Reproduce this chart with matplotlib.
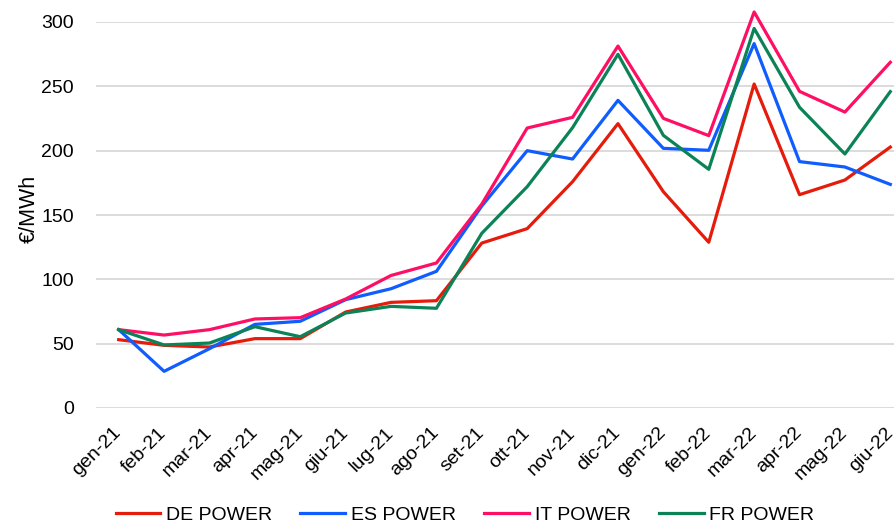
import matplotlib.pyplot as plt

plt.rcParams['font.family'] = ['Liberation Sans', 'DejaVu Sans']

# mesi e prezzi mensili (€/MWh)
mesi = ["gen-21", "feb-21", "mar-21", "apr-21", "mag-21", "giu-21", "lug-21", "ago-21", "set-21",
        "ott-21", "nov-21", "dic-21", "gen-22", "feb-22", "mar-22", "apr-22", "mag-22", "giu-22"]
de_power = [53.1, 48.7, 47.4, 53.9, 53.9, 74.6, 82.1, 83.4, 128.2,
            139.4, 175.9, 221.0, 168.1, 128.8, 251.8, 165.8, 177.2, 202.8]
es_power = [60.9, 28.5, 46.1, 65.0, 67.4, 84.2, 92.7, 106.2, 157.0,
            200.0, 193.5, 239.1, 201.8, 200.3, 283.2, 191.5, 187.3, 173.8]
it_power = [60.9, 56.7, 60.9, 69.2, 70.2, 84.7, 103.0, 112.7, 158.5,
            217.6, 225.9, 281.3, 225.1, 211.7, 307.8, 246.1, 230.0, 268.7]
fr_power = [60.9, 49.0, 50.5, 63.2, 55.4, 73.8, 79.0, 77.5, 135.8,
            172.0, 217.9, 274.9, 211.9, 185.5, 295.0, 233.7, 197.4, 245.9]

serie = [("DE POWER", de_power, "#E51B0C"),
         ("ES POWER", es_power, "#0F5CFF"),
         ("IT POWER", it_power, "#FF0F64"),
         ("FR POWER", fr_power, "#0B8357")]

fig = plt.figure(figsize=(8.95, 5.23), dpi=100)
ax = fig.add_axes([96 / 895, 115 / 523, (913 - 96) / 895, (408 - 22) / 523])

x = range(len(mesi))
for nome, valori, colore in serie:
    ax.plot(x, valori, color=colore, linewidth=2.3, label=nome, clip_on=False)

ax.set_xlim(-0.5, len(mesi) - 0.5)
ax.set_ylim(0, 300)
ax.set_yticks(range(0, 301, 50))
ax.yaxis.grid(True, color="#D9D9D9", linewidth=1.3)
ax.set_axisbelow(True)
for s in ax.spines.values():
    s.set_visible(False)

ax.set_xticks(list(x))
ax.set_xticklabels(mesi, rotation=45, ha="right", va="center", rotation_mode="anchor")
ax.tick_params(axis="both", length=0, labelsize=14, colors="#000000")
ax.tick_params(axis="x", pad=16)
ax.tick_params(axis="y", pad=16)
ax.set_ylabel("€/MWh", fontsize=15.5, labelpad=1, y=0.515)

fig.legend(loc="center", bbox_to_anchor=(465 / 895, 8 / 523), ncol=4, frameon=False,
           fontsize=14, handlelength=2.3, handletextpad=0.3, columnspacing=1.45)

plt.savefig("out.png", dpi=100)
plt.close()
